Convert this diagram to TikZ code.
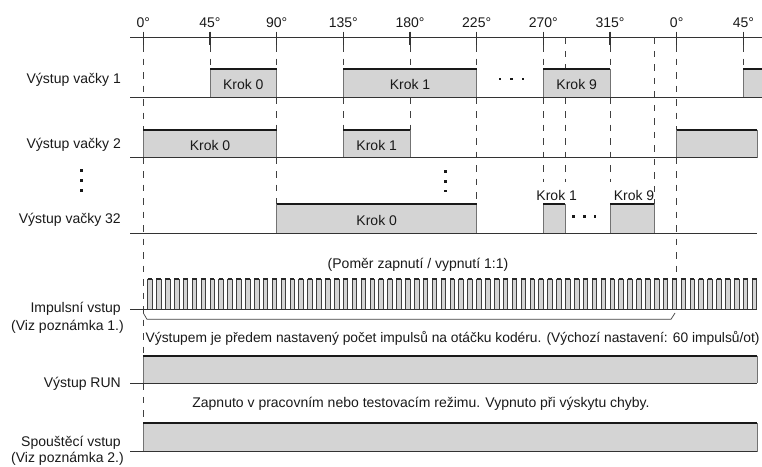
\documentclass[tikz,border=0pt]{standalone}
\usepackage{fontspec}
\setmainfont{Liberation Sans}
\tikzset{
  lbl/.style={font=\fontsize{14}{16}\selectfont, inner sep=0pt, text=black!90},
  sigline/.style={draw=black!80, line width=1.2pt},
  hiline/.style={draw=black!90, line width=2.3pt},
  edgeline/.style={draw=black!55, line width=0.7pt},
  tedge/.style={draw=black!75, line width=0.6pt},
  guide/.style={draw=black!75, line width=0.75pt, dash pattern=on 6.5pt off 7pt},
  pfill/.style={fill=black!17},
  dotm/.style={fill=black!90}
}
\newcommand\tpulse[4]{%
  \fill[pfill] (#1,#3) rectangle (#2,#4);
  \draw[edgeline] (#1,#4) -- (#1,#3) (#2,#3) -- (#2,#4);
  \draw[hiline] (#1,#3) -- (#2,#3);}
\newcommand\ipulse[4]{%
  \fill[pfill] (#1,#3) rectangle (#2,#4);
  \draw[tedge] (#1,#4) -- (#1,#3) (#2,#3) -- (#2,#4);
  \draw[draw=black!85, line width=2pt] (#1,#3) -- (#2,#3);}
\begin{document}
\begin{tikzpicture}[x=1pt,y=-1pt]
\useasboundingbox (0,0) rectangle (762,466);
% ---- axis ----
\draw[sigline] (130,37.3) -- (762,37.3);
\foreach \k/\t in {0/0,1/45,2/90,3/135,4/180,5/225,6/270,7/315,8/0,9/45}{
  \pgfmathsetmacro\xx{143.333+66.667*\k}
  \draw[sigline] (\xx,31.5) -- (\xx,45);
  \node[lbl] (deg\k) at (\xx,22.7) {\t°};
}
% ---- guide lines ----
\draw[guide] (143.3,45) -- (143.3,130) (143.3,157.7) -- (143.3,355.7) (143.3,383.3) -- (143.3,423.3);
\draw[guide] (210,45) -- (210,69);
\draw[guide] (276.7,45) -- (276.7,69) (276.7,97.7) -- (276.7,130) (276.7,157.7) -- (276.7,204.3);
\draw[guide] (343.3,45) -- (343.3,69) (343.3,97.7) -- (343.3,130);
\draw[guide] (410,45) -- (410,69) (410,97.7) -- (410,130);
\draw[guide] (476.7,45) -- (476.7,69) (476.7,97.7) -- (476.7,204.3);
\draw[guide] (543.3,45) -- (543.3,69) (543.3,97.7) -- (543.3,182);
\draw[guide] (565,37.3) -- (565,69) (565,97.7) -- (565,182);
\draw[guide] (610,45) -- (610,69) (610,97.7) -- (610,182);
\draw[guide] (654.3,37.3) -- (654.3,204.3);
\draw[guide] (676.7,45) -- (676.7,130) (676.7,157.7) -- (676.7,279.3);
\draw[guide] (743.3,45) -- (743.3,69);
% ---- row 1 ----
\tpulse{210}{276.7}{69}{97.7}
\tpulse{343.3}{476.7}{69}{97.7}
\tpulse{543.3}{610}{69}{97.7}
\tpulse{743.3}{762}{69}{97.7}
\draw[sigline] (130,97.7) -- (762,97.7);
\node[lbl, anchor=east] (r1) at (121,80) {Výstup vačky 1};
\node[lbl] (r1k0) at (243.3,84.5) {Krok 0};
\node[lbl] (r1k1) at (410,84.5) {Krok 1};
\node[lbl] (r1k9) at (576.7,84.5) {Krok 9};
\foreach \x in {500,511.5,523}{\fill[dotm] (\x-1.3,77.7) rectangle (\x+1.3,80.3);}
% ---- row 2 ----
\tpulse{143.3}{276.7}{130}{157.7}
\tpulse{343.3}{410}{130}{157.7}
\tpulse{676.7}{757}{130}{157.7}
\draw[sigline] (130,157.7) -- (757,157.7);
\node[lbl, anchor=east] (r2) at (121,145) {Výstup vačky 2};
\node[lbl] (r2k0) at (210,145) {Krok 0};
\node[lbl] (r2k1) at (376.7,145) {Krok 1};
% ---- vertical dots ----
\foreach \y in {170.3,180.3,190.3}{\fill[dotm] (80.4,\y-1.3) rectangle (83,\y+1.3);}
\foreach \y in {171.5,181.2,190.8}{\fill[dotm] (444.4,\y-1.3) rectangle (447,\y+1.3);}
% ---- row 32 ----
\tpulse{276.7}{476.7}{204.3}{233.3}
\tpulse{543.3}{565}{204.3}{233.3}
\tpulse{610}{654.3}{204.3}{233.3}
\draw[sigline] (130,233.3) -- (757,233.3);
\node[lbl, anchor=east] (r32) at (121,220) {Výstup vačky 32};
\node[lbl] (r32k0) at (376.7,220) {Krok 0};
\node[lbl] (r32k1) at (556.7,195) {Krok 1};
\node[lbl] (r32k9) at (634,195) {Krok 9};
\foreach \x in {573.3,584.2,595}{\fill[dotm] (\x-1.3,215.4) rectangle (\x+1.3,218);}
% ---- impulse input ----
\node[lbl] (ratio) at (418,265) {(Poměr zapnutí / vypnutí 1:1)};
\foreach \k in {0,...,68}{
  \pgfmathsetmacro\xa{147.6+8.889*\k}
  \pgfmathsetmacro\xb{\xa+4.6}
  \ipulse{\xa}{\xb}{279.3}{309.3}
}
\draw[sigline] (130,309.3) -- (757,309.3);
\draw[draw=black!75, line width=0.7pt] (143.3,313) -- (147,319.3) -- (671,319.3) -- (675,313);
\node[lbl, anchor=east] (imp) at (121,308.3) {Impulsní vstup};
\node[lbl, anchor=east] (imp2) at (124,326.7) {(Viz poznámka 1.)};
\node[lbl, anchor=west, font=\fontsize{13.8}{16}\selectfont] (impnote) at (145.5,338.3) {Výstupem je předem nastavený počet impulsů na otáčku kodéru. (Výchozí nastavení: 60 impulsů/ot)};
% ---- RUN ----
\tpulse{143.3}{757}{355.7}{383.3}
\draw[sigline] (130,383.3) -- (757,383.3);
\node[lbl, anchor=east] (run) at (121,383.3) {Výstup RUN};
\node[lbl] (runnote) at (421,403.3) {Zapnuto v pracovním nebo testovacím režimu. Vypnuto při výskytu chyby.};
% ---- start input ----
\tpulse{143.3}{757}{423.3}{451.7}
\draw[sigline] (130,451.7) -- (757,451.7);
\node[lbl, anchor=east] (st) at (121,443) {Spouštěcí vstup};
\node[lbl, anchor=east] (st2) at (124,459) {(Viz poznámka 2.)};
\end{tikzpicture}
\end{document}
